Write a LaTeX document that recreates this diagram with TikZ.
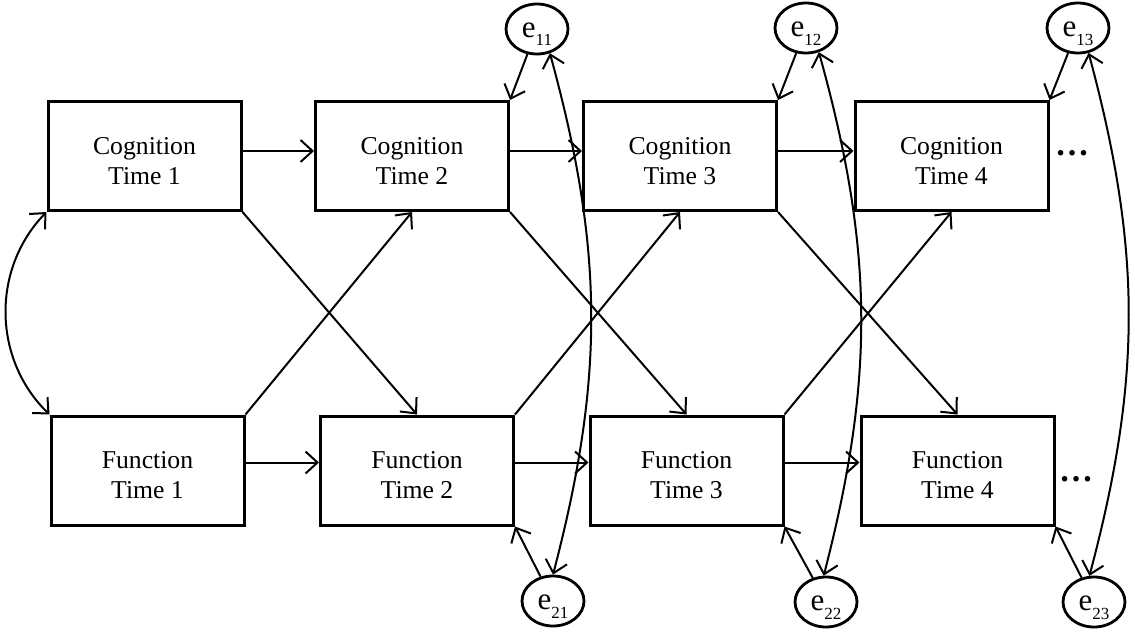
\documentclass[tikz,border=0pt]{standalone}
\usepackage{fontspec}
\setmainfont{Liberation Serif}
\usetikzlibrary{shapes.geometric, arrows.meta}

\newcommand{\errlabel}[1]{e{\fontsize{8.5}{9}\selectfont\raisebox{-4.5pt}{#1}}}

\begin{document}
\begin{tikzpicture}[x=0.5pt,y=-0.5pt,
  box/.style={draw, line width=1.5pt, minimum width=96.5pt, minimum height=54.5pt,
    inner sep=0pt, align=center, text height=28pt, text depth=0pt,
    font=\fontsize{12.85}{15}\selectfont},
  err/.style={draw, ellipse, line width=1.4pt, minimum width=31pt, minimum height=25pt,
    inner sep=0pt, text height=8pt, text depth=0pt, font=\fontsize{15.5}{16}\selectfont},
  arr/.style={line width=1pt, -{Straight Barb[length=6pt,width=11pt]}},
  cov/.style={line width=1pt, {Straight Barb[length=6pt,width=11pt]}-{Straight Barb[length=6pt,width=11pt]}}]
\useasboundingbox (0,0) rectangle (1135,637);

% cognition row
\node[box] (cog1) at (144.5,156) {Cognition\\Time 1};
\node[box] (cog2) at (412,156) {Cognition\\Time 2};
\node[box] (cog3) at (680,156) {Cognition\\Time 3};
\node[box] (cog4) at (951.5,156) {Cognition\\Time 4};

% function row
\node[box] (fun1) at (147.5,470.5) {Function\\Time 1};
\node[box] (fun2) at (417,470.5) {Function\\Time 2};
\node[box] (fun3) at (686.5,470.5) {Function\\Time 3};
\node[box] (fun4) at (957.5,470.5) {Function\\Time 4};

\node[font=\fontsize{17}{17}\selectfont] (dotscog) at (1072,153) {\textbf{…}};
\node[font=\fontsize{17}{17}\selectfont] (dotsfun) at (1076,479) {\textbf{…}};

% residuals
\node[err] (e11) at (537,29) {\errlabel{11}};
\node[err] (e12) at (806,28) {\errlabel{12}};
\node[err] (e13) at (1078,28) {\errlabel{13}};
\node[err] (e21) at (553,601) {\errlabel{21}};
\node[err] (e22) at (826,602) {\errlabel{22}};
\node[err] (e23) at (1094,602) {\errlabel{23}};

% stability paths
\draw[arr] ([yshift=2.5pt]cog1.east) -- ([yshift=2.5pt]cog2.west);
\draw[arr] ([yshift=2.5pt]cog2.east) -- ([yshift=2.5pt]cog3.west);
\draw[arr] ([yshift=2.5pt]cog3.east) -- ([yshift=2.5pt]cog4.west);
\draw[arr] ([yshift=4pt]fun1.east) -- ([yshift=4pt]fun2.west);
\draw[arr] ([yshift=4pt]fun2.east) -- ([yshift=4pt]fun3.west);
\draw[arr] ([yshift=4pt]fun3.east) -- ([yshift=4pt]fun4.west);

% cross-lagged paths
\draw[arr] (cog1.south east) -- (fun2.north);
\draw[arr] (cog2.south east) -- (fun3.north);
\draw[arr] (cog3.south east) -- (fun4.north);
\draw[arr] (fun1.north east) -- (cog2.south);
\draw[arr] (fun2.north east) -- (cog3.south);
\draw[arr] (fun3.north east) -- (cog4.south);

% residual paths
\draw[arr] (e11) -- (cog2.north east);
\draw[arr] (e12) -- (cog3.north east);
\draw[arr] (e13) -- (cog4.north east);
\draw[arr] (e21) -- (fun2.south east);
\draw[arr] (e22) -- (fun3.south east);
\draw[arr] (e23) -- (fun4.south east);

% covariances
\draw[cov] (cog1.south west) to[bend right=45] (fun1.north west);
\draw[cov] (e21.north) to[bend right=15] (e11.-62);
\draw[cov] (e22.95) to[bend right=15] (e12.-62);
\draw[cov] (e23.100) to[bend right=15] (e13.-67);
\end{tikzpicture}
\end{document}
